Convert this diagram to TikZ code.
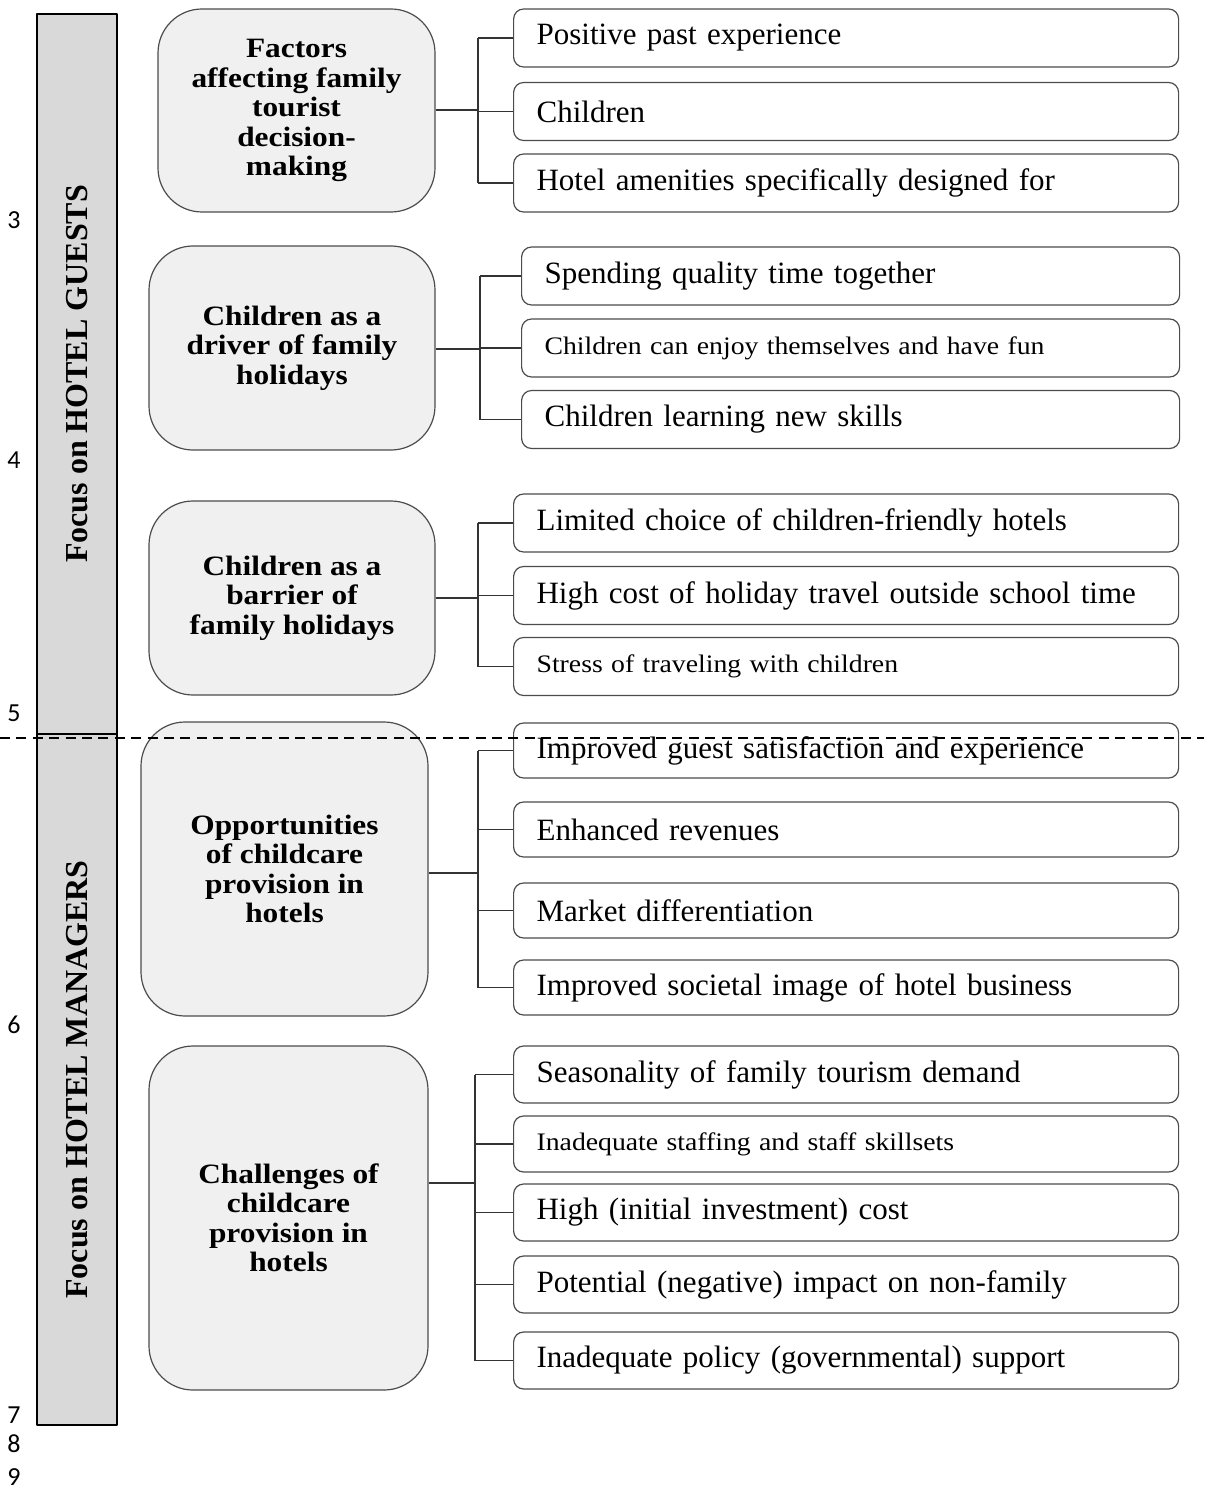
\documentclass[tikz,border=0pt]{standalone}
\usepackage{fontspec}
\setmainfont{Liberation Serif}
\newfontfamily\headfont[FakeStretch=1.12]{Liberation Serif}
\newfontfamily\wideserif[FakeStretch=1.1]{Liberation Serif}
\newfontfamily\numfont{Carlito}
\usetikzlibrary{calc, positioning}

\begin{document}
\begin{tikzpicture}[x=0.5pt, y=-0.5pt, line join=round,
  groupbox/.style={draw=black!70, line width=0.6pt, fill=black!6,
    rounded corners=22pt, align=center, inner sep=0pt,
    font=\headfont\bfseries\fontsize{14}{14.75}\selectfont},
  itembox/.style={draw=black!70, line width=0.6pt, fill=white,
    rounded corners=5pt, anchor=west, minimum height=29pt,
    inner xsep=11.5pt, text width=309.5pt, align=left,
    font=\fontsize{15.5}{17.5}\selectfont},
  smalltext/.style={font=\wideserif\fontsize{12.6}{14}\selectfont},
  barbox/.style={draw=black, line width=0.6pt, fill=black!15, rotate=90,
    minimum height=40pt, inner sep=0pt,
    font=\bfseries\fontsize{16}{18}\selectfont},
  linenum/.style={font=\numfont\fontsize{13}{15}\selectfont, inner sep=0pt},
  link/.style={draw=black!80, line width=0.6pt},
  sectionline/.style={draw=black, line width=1.2pt, dash pattern=on 5pt off 3.2pt}]
\useasboundingbox (0,0) rectangle (1204,1492);

% Line numbers at the margin
\node[linenum] (n3) at (14,220) {3};
\node[linenum] (n4) at (14,460) {4};
\node[linenum] (n5) at (14,713) {5};
\node[linenum] (n6) at (14,1025) {6};
\node[linenum] (n7) at (14,1415) {7};
\node[linenum] (n8) at (14,1444) {8};
\node[linenum] (n9) at (14,1477) {9};

% Side bars
\node[barbox, minimum width=360pt] (guests) at (77,374) {Focus on HOTEL GUESTS};
\node[barbox, minimum width=345.5pt] (managers) at (77,1079.5) {Focus on HOTEL MANAGERS};

% Theme boxes
\node[groupbox, minimum width=138.5pt, minimum height=101.5pt] (g1) at (296.5,110.5)
  {Factors\\affecting family\\tourist\\decision-\\making};
\node[groupbox, minimum width=143pt, minimum height=102pt] (g2) at (292,348)
  {Children as a\\driver of family\\holidays};
\node[groupbox, minimum width=143pt, minimum height=97pt] (g3) at (292,598)
  {Children as a\\barrier of\\family holidays};
\node[groupbox, minimum width=143.5pt, minimum height=147pt] (g4) at (284.5,869)
  {Opportunities\\of childcare\\provision in\\hotels};
\node[groupbox, minimum width=139.5pt, minimum height=172pt] (g5) at (288.5,1218)
  {Challenges of\\childcare\\provision in\\hotels};

% Family tourist decision-making
\node[itembox] (i1) at (513,38) {Positive past experience};
\node[itembox] (i2) at (513,111.5) {Children};
\node[itembox] (i3) at (513,183) {Hotel amenities specifically designed for};

% Children as a driver
\node[itembox, text width=306pt] (i4) at (521,276) {Spending quality time together};
\node[itembox, text width=306pt, smalltext] (i5) at (521,348) {Children can enjoy themselves and have fun};
\node[itembox, text width=306pt] (i6) at (521,419.5) {Children learning new skills};

% Children as a barrier
\node[itembox] (i7) at (513,523) {Limited choice of children-friendly hotels};
\node[itembox] (i8) at (513,595.5) {High cost of holiday travel outside school time};
\node[itembox, smalltext] (i9) at (513,666.5) {Stress of traveling with children};

% Opportunities
\node[itembox, minimum height=27.5pt] (i10) at (513,750.5) {Improved guest satisfaction and experience};
\node[itembox, minimum height=27.5pt] (i11) at (513,829.5) {Enhanced revenues};
\node[itembox, minimum height=27.5pt] (i12) at (513,910.5) {Market differentiation};
\node[itembox, minimum height=27.5pt] (i13) at (513,987.5) {Improved societal image of hotel business};

% Challenges
\node[itembox, minimum height=28.5pt] (i14) at (513,1074.5) {Seasonality of family tourism demand};
\node[itembox, minimum height=28pt, smalltext] (i15) at (513,1144) {Inadequate staffing and staff skillsets};
\node[itembox, minimum height=28.5pt] (i16) at (513,1212.5) {High (initial investment) cost};
\node[itembox, minimum height=28.5pt] (i17) at (513,1284.5) {Potential (negative) impact on non-family};
\node[itembox, minimum height=28.5pt] (i18) at (513,1360.5) {Inadequate policy (governmental) support};

% Bracket connectors
\coordinate (b1) at (478,110);
\coordinate (b2) at (480,349);
\coordinate (b3) at (478,598);
\coordinate (b4) at (478,873);
\coordinate (b5) at (475,1183);

\draw[link] (g1.east |- b1) -- (b1);
\draw[link] (b1 |- i1.west) -- (b1 |- i3.west);
\foreach \item in {i1,i2,i3} \draw[link] (b1 |- \item.west) -- (\item.west);

\draw[link] (g2.east |- b2) -- (b2);
\draw[link] (b2 |- i4.west) -- (b2 |- i6.west);
\foreach \item in {i4,i5,i6} \draw[link] (b2 |- \item.west) -- (\item.west);

\draw[link] (g3.east |- b3) -- (b3);
\draw[link] (b3 |- i7.west) -- (b3 |- i9.west);
\foreach \item in {i7,i8,i9} \draw[link] (b3 |- \item.west) -- (\item.west);

\draw[link] (g4.east |- b4) -- (b4);
\draw[link] (b4 |- i10.west) -- (b4 |- i13.west);
\foreach \item in {i10,i11,i12,i13} \draw[link] (b4 |- \item.west) -- (\item.west);

\draw[link] (g5.east |- b5) -- (b5);
\draw[link] (b5 |- i14.west) -- (b5 |- i18.west);
\foreach \item in {i14,i15,i16,i17,i18} \draw[link] (b5 |- \item.west) -- (\item.west);

% Split between guests and managers
\draw[sectionline] (0,738) -- (1204,738);
\end{tikzpicture}
\end{document}
